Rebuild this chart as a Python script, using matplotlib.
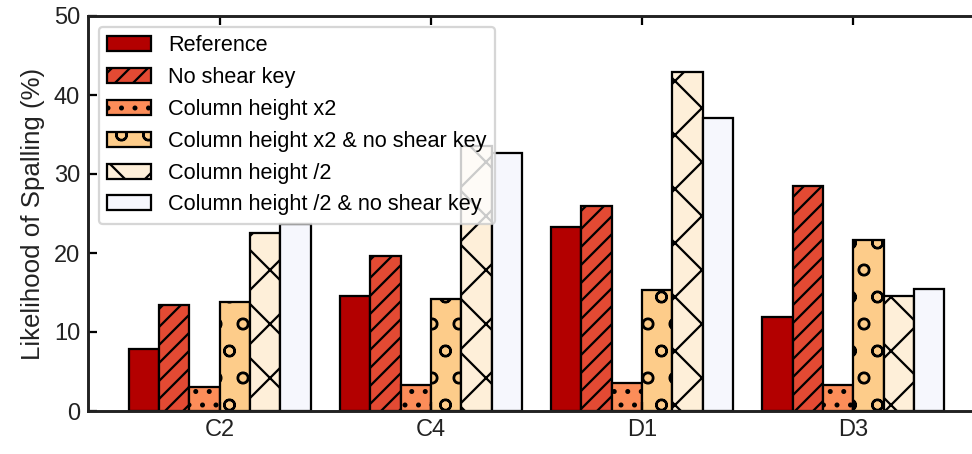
import numpy as np
import matplotlib.pyplot as plt

plt.rcParams['font.family'] = ['Liberation Sans', 'DejaVu Sans']
plt.rcParams['hatch.linewidth'] = 1.0

categories = ['C2', 'C4', 'D1', 'D3']
labels = ['Reference', 'No shear key', 'Column height x2',
          'Column height x2 & no shear key', 'Column height /2',
          'Column height /2 & no shear key']

# likelihood of spalling (%) per case, one list per category order
reference = [7.8, 14.6, 23.3, 11.9]
no_shear_key = [13.4, 19.6, 25.9, 28.5]
height_x2 = [3.0, 3.3, 3.5, 3.3]
height_x2_no_key = [13.8, 14.2, 15.3, 21.6]
height_half = [22.5, 33.5, 42.9, 14.6]
height_half_no_key = [23.7, 32.7, 37.1, 15.4]

series = [reference, no_shear_key, height_x2, height_x2_no_key,
          height_half, height_half_no_key]
colours = ['#b30000', '#e34a33', '#fc8d59', '#fdcc8a', '#feefd9', '#f6f7fd']
hatches = ['', '///', '..', 'o', 'x', '']

fig = plt.figure(figsize=(973 / 162, 454 / 162), dpi=162)
ax = fig.add_axes([88 / 973, 43 / 454, 897 / 973, 395 / 454])

x = np.arange(len(categories))
w = 0.1437
for i, vals in enumerate(series):
    ax.bar(x + (i - 2.5) * w, vals, w, color=colours[i], hatch=hatches[i],
           edgecolor='k', linewidth=1.0, label=labels[i])

ax.set_ylim(0, 50)
ax.set_yticks([0, 10, 20, 30, 40, 50])
ax.set_xticks(x)
ax.set_xticklabels(categories)
ax.set_ylabel('Likelihood of Spalling (%)', fontsize=11.5, color='#222222')
ax.tick_params(direction='in', top=True, right=True, labelsize=10.5,
               labelcolor='#222222', length=4, width=1.0)
for s in ax.spines.values():
    s.set_linewidth(1.3)
    s.set_color('#222222')

ax.legend(loc='upper left', fontsize=9.6, framealpha=0.8)

fig.savefig('out.png', dpi=162)
